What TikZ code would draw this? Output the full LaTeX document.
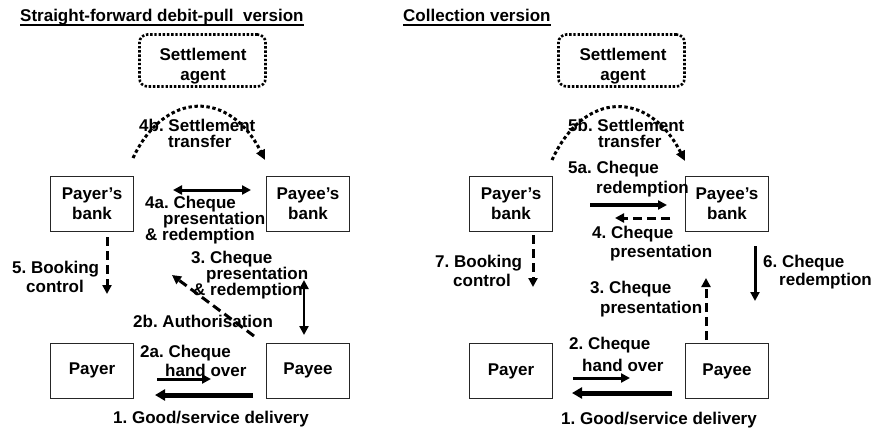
\documentclass[tikz,border=0pt]{standalone}
\usepackage{fontspec}
\setmainfont{Liberation Sans}
\usetikzlibrary{arrows.meta}
\frenchspacing
\begin{document}
\begin{tikzpicture}[x=1pt,y=-1pt,
  every node/.style={font=\fontsize{17}{20}\selectfont\bfseries},
  lbl/.style={anchor=base west,inner sep=0pt},
  clbl/.style={anchor=base,inner sep=0pt},
  box/.style={draw=black!85,line width=0.9pt,minimum width=83pt,minimum height=55pt,align=center,inner sep=0pt},
  agentbox/.style={draw,line width=2.6pt,dash pattern=on 2.4pt off 1.8pt,rounded corners=8pt,minimum width=126pt,minimum height=52pt,inner sep=0pt},
  settlearc/.style={line width=3pt,dash pattern=on 3.4pt off 2.6pt,-{Triangle[length=10pt,width=9pt]}},
  onehead/.style={line width=3pt,-{Triangle[length=9pt,width=9pt]}},
  twoheads/.style={line width=3pt,{Triangle[length=9pt,width=9pt]}-{Triangle[length=9pt,width=9pt]}},
  heavy/.style={line width=5pt,-{Triangle[length=10pt,width=11pt]}},
  dashedarrow/.style={line width=3pt,dash pattern=on 9pt off 5pt,-{Triangle[length=9pt,width=9pt]}},
  underln/.style={line width=1.8pt}
]
\useasboundingbox (0,0) rectangle (872,428);

% ---------- straight-forward debit-pull version ----------
\node[lbl] (ttlL) at (20,22) {Straight-forward debit-pull\ \ version};
\draw[underln] ([yshift=-2.8pt]ttlL.base west) -- ([yshift=-2.8pt]ttlL.base east);

\node[agentbox] (saL) at (202.5,60.5) {};
\node[clbl] (saLa) at (203,60) {Settlement};
\node[clbl] (saLb) at (203,80) {agent};

\node[box] (pbL) at (92,204) {Payer’s\\bank};
\node[box] (ebL) at (308,204) {Payee’s\\bank};
\node[box] (prL) at (92,370.5) {Payer};
\node[box] (peL) at (308,370.5) {Payee};

% settlement transfer arc
\coordinate (arcLs) at (133,158);
\coordinate (arcLe) at (265,160);
\draw[settlearc] (arcLs) .. controls (165,90) and (230,90) .. (arcLe);
\node[lbl] (l4b1) at (139,131) {4b. Settlement};
\node[lbl] (l4b2) at (168,147) {transfer};

% interbank presentation and redemption
\coordinate (a4as) at (173,190);
\coordinate (a4ae) at (251,190);
\draw[twoheads] (a4as) -- (a4ae);
\node[lbl] (l4a1) at (145,208) {4a. Cheque};
\node[lbl] (l4a2) at (163,224) {presentation};
\node[lbl] (l4a3) at (145,240) {\& redemption};

% booking control
\coordinate (a5s) at (107,237);
\coordinate (a5e) at (107,294);
\draw[dashedarrow] (a5s) -- (a5e);
\node[lbl] (l5a) at (12,273) {5. Booking};
\node[lbl] (l5b) at (26,292) {control};

% payee to payee's bank
\coordinate (a3s) at (304,280);
\coordinate (a3e) at (304,335);
\draw[twoheads,line width=2.6pt] (a3s) -- (a3e);
\node[lbl] (l3a) at (191,263) {3. Cheque};
\node[lbl] (l3b) at (206,279) {presentation};
\node[lbl] (l3c) at (193,295) {\& redemption};

% authorisation
\coordinate (a2bs) at (254,336);
\coordinate (a2be) at (172,275);
\draw[dashedarrow] (a2bs) -- (a2be);
\node[lbl] (l2b) at (133,327) {2b. Authorisation};

% cheque hand over and delivery
\coordinate (a2as) at (157,379);
\coordinate (a2ae) at (211,379);
\draw[onehead] (a2as) -- (a2ae);
\node[lbl] (l2a1) at (140,357) {2a. Cheque};
\node[lbl] (l2a2) at (165,376) {hand over};

\coordinate (a1Ls) at (253,395);
\coordinate (a1Le) at (155,395);
\draw[heavy] (a1Ls) -- (a1Le);
\node[lbl] (l1L) at (113,423) {1. Good/service delivery};

% ---------- collection version ----------
\node[lbl] (ttlR) at (403,22) {Collection version};
\draw[underln] ([yshift=-2.8pt]ttlR.base west) -- ([yshift=-2.8pt]ttlR.base east);

\node[agentbox] (saR) at (621.5,60.5) {};
\node[clbl] (saRa) at (623,60) {Settlement};
\node[clbl] (saRb) at (623,80) {agent};

\node[box] (pbR) at (511,204) {Payer’s\\bank};
\node[box] (ebR) at (727,204) {Payee’s\\bank};
\node[box] (prR) at (511,371) {Payer};
\node[box] (peR) at (727,371) {Payee};

% settlement transfer arc
\coordinate (arcRs) at (552,160);
\coordinate (arcRe) at (685,161);
\draw[settlearc] (arcRs) .. controls (584,90) and (649,90) .. (arcRe);
\node[lbl] (l5b1) at (568,131) {5b. Settlement};
\node[lbl] (l5b2) at (598,147) {transfer};

% redemption and presentation between banks
\coordinate (a5as) at (590,205);
\coordinate (a5ae) at (667,205);
\draw[onehead,line width=3.4pt] (a5as) -- (a5ae);
\node[lbl] (l5a1) at (568,173) {5a. Cheque};
\node[lbl] (l5a2) at (596,193) {redemption};

\coordinate (a4s) at (670,218);
\coordinate (a4e) at (615,218);
\draw[dashedarrow] (a4s) -- (a4e);
\node[lbl] (l4r1) at (592,238) {4. Cheque};
\node[lbl] (l4r2) at (610,257) {presentation};

% booking control
\coordinate (a7s) at (533,235);
\coordinate (a7e) at (533,287);
\draw[dashedarrow] (a7s) -- (a7e);
\node[lbl] (l7a) at (435,267) {7. Booking};
\node[lbl] (l7b) at (453,286) {control};

% redemption to payee
\coordinate (a6s) at (755,246);
\coordinate (a6e) at (755,301);
\draw[onehead] (a6s) -- (a6e);
\node[lbl] (l6a) at (763,267) {6. Cheque};
\node[lbl] (l6b) at (779,285) {redemption};

% presentation by payee
\coordinate (a3Rs) at (706,340);
\coordinate (a3Re) at (706,278);
\draw[dashedarrow] (a3Rs) -- (a3Re);
\node[lbl] (l3Ra) at (590,293) {3. Cheque};
\node[lbl] (l3Rb) at (600,313) {presentation};

% cheque hand over and delivery
\coordinate (a2Rs) at (573,378);
\coordinate (a2Re) at (630,378);
\draw[onehead] (a2Rs) -- (a2Re);
\node[lbl] (l2Ra) at (569,349) {2. Cheque};
\node[lbl] (l2Rb) at (582,371) {hand over};

\coordinate (a1Rs) at (672,393);
\coordinate (a1Re) at (572,393);
\draw[heavy] (a1Rs) -- (a1Re);
\node[lbl] (l1R) at (561,424) {1. Good/service delivery};
\end{tikzpicture}
\end{document}
